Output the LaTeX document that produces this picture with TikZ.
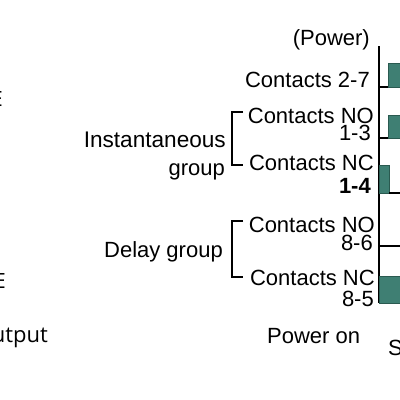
\documentclass[tikz,border=0pt]{standalone}
\usepackage{fontspec}
\setmainfont{Liberation Sans}
\newfontfamily\cutfont{Open Sans}
\usetikzlibrary{positioning}

\definecolor{barfill}{HTML}{3F7F73}
\definecolor{barline}{HTML}{2A5A50}

\tikzset{
  lbl/.style={anchor=base east, inner sep=0pt, font=\fontsize{22}{26}\selectfont},
  lblw/.style={anchor=base west, inner sep=0pt, font=\fontsize{22}{26}\selectfont},
  cut/.style={anchor=base east, inner sep=0pt, font=\cutfont\fontsize{21}{24}\selectfont},
  sig/.style={line width=1.2pt, black},
  bar/.style={fill=barfill, draw=barline, line width=1pt},
  brack/.style={line width=1.2pt, black}
}

\begin{document}
\begin{tikzpicture}[x=1pt, y=-1pt]
      \useasboundingbox (0,0) rectangle (400,400);
      \clip (0,0) rectangle (400,400);

       %draw cut off texts at the left
      \node[cut] (cutA) at (3,106) {E};
      \node[cut] (cutB) at (6,288) {E};
      \node[cut, font=\cutfont\fontsize{22}{24}\selectfont] (outp) at (48,342) {Output};

       %draw labels
      \node[lbl] (power) at (370,45) {(Power)};
      \node[lbl] (c27) at (370,87) {Contacts 2-7};
      \node[lbl] (cno13) at (374,123) {Contacts NO};
      \node[lbl] (n13) at (371,140) {1-3};
      \node[lbl] (cnc14) at (374,170) {Contacts NC};
      \node[lbl, font=\fontsize{22}{26}\selectfont\bfseries] (n14) at (371,193) {1-4};
      \node[lbl] (cno86) at (375,232) {Contacts NO};
      \node[lbl] (n86) at (373,250) {8-6};
      \node[lbl] (cnc85) at (375,285) {Contacts NC};
      \node[lbl] (n85) at (374,306) {8-5};

      \node[lbl, font=\fontsize{22.6}{26}\selectfont] (inst) at (226,147) {Instantaneous};
      \node[lbl] (igrp) at (225,175) {group};
      \node[lbl] (delay) at (223,257) {Delay group};

      \node[lblw] (pon) at (267,343) {Power on};
      \node[lblw] (sfrag) at (388,355) {S};

       %draw brackets
      \draw[brack] (243,112) -- (232,112) -- (232,165) -- (243,165);
      \draw[brack] (243,221) -- (232,221) -- (232,277) -- (243,277);

       %draw time axis
      \coordinate (top) at (379,46);
      \coordinate (bot) at (379,303);
      \draw[sig] (top) -- (bot);

       %draw signals
      \draw[bar] (388,63) rectangle (404,87);
      \draw[sig] (378,87) -- (388,87);

      \draw[bar] (388,115) rectangle (404,138);
      \draw[sig] (378,138) -- (388,138);

      \draw[bar] (379,165) rectangle (389,193);
      \draw[sig] (389,193) -- (404,193);

      \draw[sig] (378,246) -- (404,246);

      \draw[bar] (379,276) rectangle (404,303);
\end{tikzpicture}
\end{document}
